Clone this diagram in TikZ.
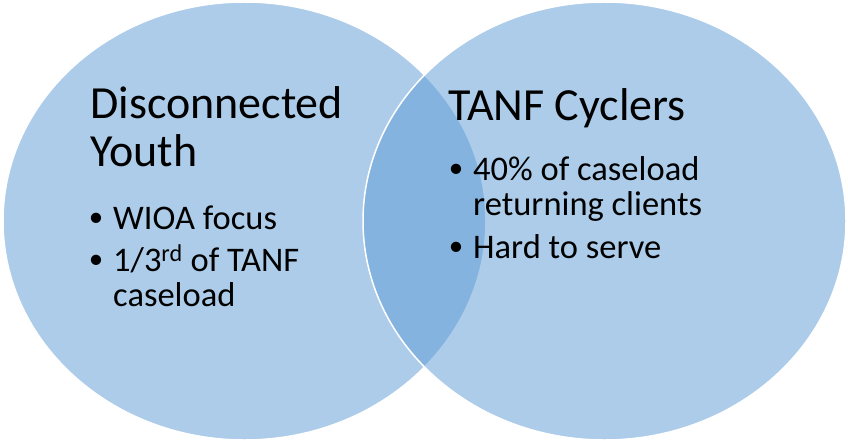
\documentclass[tikz,border=0pt]{standalone}
\usepackage{fontspec}
\setmainfont{Carlito}
\definecolor{vennblue}{HTML}{5B9BD5}
\begin{document}
\begin{tikzpicture}[x=1pt,y=-1pt,
  circ/.style={draw=white, line width=1.5pt, fill=vennblue, fill opacity=0.5, draw opacity=1},
  title/.style={anchor=base west, inner sep=0pt, font=\fontsize{46}{48}\selectfont},
  item/.style={anchor=base west, inner sep=0pt, font=\fontsize{34.5}{36}\selectfont},
  bul/.style={anchor=base, inner sep=0pt, font=\fontsize{29}{30}\selectfont}]
\fill[white] (0,0) rectangle (848,441);
\useasboundingbox (0,0) rectangle (848,441);
\path[circ] (244.5,221) ellipse [x radius=241.5pt, y radius=219pt];
\path[circ] (604.5,221) ellipse [x radius=241.5pt, y radius=219pt];
% left texts
\node[title] (t1a) at (90,119) {Disconnected};
\node[title] (t1b) at (90,166) {Youth};
\node[bul] (b1) at (96,226) {\textbullet};
\node[item] (l1) at (113,229) {WIOA focus};
\node[bul] (b2) at (96,268) {\textbullet};
\node[item] (l2) at (113,271) {1/3\textsuperscript{rd} of TANF};
\node[item] (l3) at (113,306) {caseload};
% right texts
\node[title] (t2) at (448,121) {TANF Cyclers};
\node[bul] (b3) at (456,177) {\textbullet};
\node[item] (r1) at (473,180) {40\% of caseload};
\node[item] (r2) at (473,215) {returning clients};
\node[bul] (b4) at (456,255) {\textbullet};
\node[item] (r3) at (473,258) {Hard to serve};
\end{tikzpicture}
\end{document}
